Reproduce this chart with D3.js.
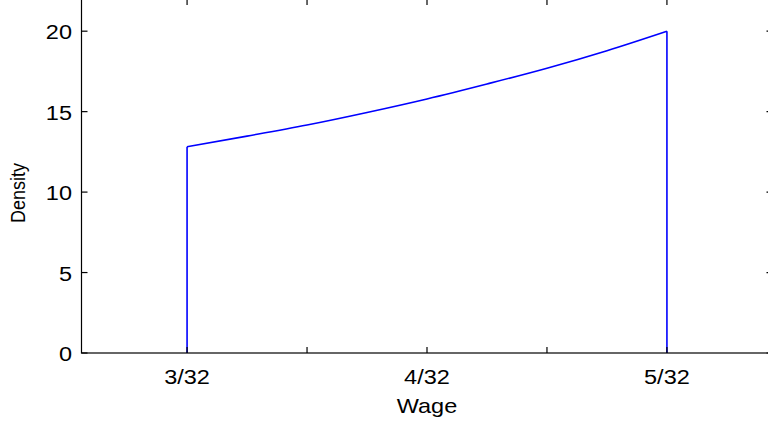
<!DOCTYPE html>
<html><head><meta charset="utf-8">
<script src="https://cdn.jsdelivr.net/npm/d3@7"></script>
<style>body{margin:0;background:#fff;}svg{display:block;}text{font-family:"Liberation Sans",Arial,sans-serif;fill:#000;}</style>
</head><body>
<script>
// wage in units of 1/32
const wage32 = [3, 3.25, 3.5, 3.75, 4, 4.25, 4.5, 4.75, 5];
const density = [12.82, 13.48, 14.17, 14.95, 15.79, 16.72, 17.70, 18.79, 20.0];
const xTicks32 = [3, 3.5, 4, 4.5, 5];
const xTickLabels = ["3/32", "", "4/32", "", "5/32"];
const yTicks = [0, 5, 10, 15, 20];
const xLabel = "Wage", yLabel = "Density";

const W = 768, H = 425;
const svg = d3.select("body").append("svg").attr("width", W).attr("height", H);
const x = d3.scaleLinear().domain([0.08, 0.17]).range([81.5, 772.5]);
const y = d3.scaleLinear().domain([0, 22]).range([353, -1]);
const fs = 21, sx = 1.12;

const pts = wage32.map((w, i) => [w / 32, density[i]]);
const line = d3.line().x(d => x(d[0])).y(d => y(d[1]));
const blue = svg.append("g").attr("fill", "none").attr("stroke", "#0000ff").attr("stroke-width", 1.6);
blue.append("path").datum(pts).attr("d", line.curve(d3.curveMonotoneX));
const first = pts[0], last = pts[pts.length - 1];
blue.append("path").datum([[first[0], 0], first]).attr("d", d3.line().x(d => x(d[0])).y(d => y(d[1])));
blue.append("path").datum([last, [last[0], 0]]).attr("d", d3.line().x(d => x(d[0])).y(d => y(d[1])));

// axes box
const g = svg.append("g").attr("stroke", "#000").attr("stroke-width", 1.2).attr("fill", "none");
g.append("rect").attr("x", x(0.08)).attr("y", y(22)).attr("width", x(0.17) - x(0.08)).attr("height", y(0) - y(22));

function label(px, py, txt, anchor) {
  svg.append("text").attr("transform", `translate(${px},${py}) scale(${sx},1)`)
    .attr("text-anchor", anchor).attr("font-size", fs).text(txt);
}
const tl = 6;
xTicks32.forEach((t, i) => {
  const px = x(t / 32);
  g.append("line").attr("x1", px).attr("x2", px).attr("y1", y(0)).attr("y2", y(0) - tl);
  g.append("line").attr("x1", px).attr("x2", px).attr("y1", y(22)).attr("y2", y(22) + tl);
  if (xTickLabels[i]) label(px, 384, xTickLabels[i], "middle");
});
yTicks.forEach(t => {
  const py = y(t);
  g.append("line").attr("x1", x(0.08)).attr("x2", x(0.08) + tl).attr("y1", py).attr("y2", py);
  g.append("line").attr("x1", x(0.17)).attr("x2", x(0.17) - tl).attr("y1", py).attr("y2", py);
  label(72, py + 8, t, "end");
});

label(427, 413, xLabel, "middle");
svg.append("text").attr("transform", `translate(25,193) rotate(-90) scale(1,${sx})`)
  .attr("text-anchor", "middle").attr("font-size", 18).text(yLabel);
</script>
</body></html>
